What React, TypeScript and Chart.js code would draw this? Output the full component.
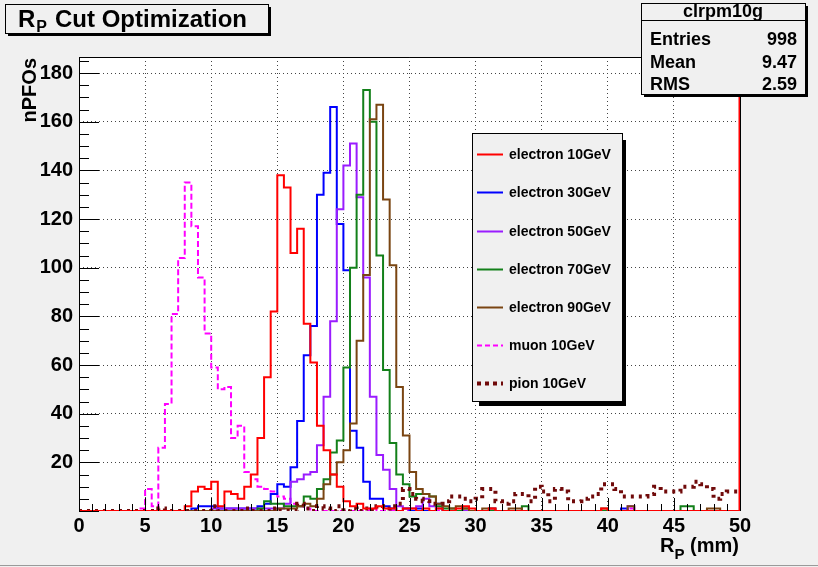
import React, { useEffect, useRef } from 'react';
import { Chart, registerables } from 'chart.js';

Chart.register(...registerables);

// ---- data: 100 bins of 0.5 mm from 0 to 50 mm ----
const X_MIN = 0;
const X_MAX = 50;
const BIN_COUNT = 100;
const binLowEdges: number[] = Array.from({ length: BIN_COUNT }, (_, i) => X_MIN + (i * (X_MAX - X_MIN)) / BIN_COUNT);

const xTickValues = [0, 5, 10, 15, 20, 25, 30, 35, 40, 45, 50];
const yTickValues = [20, 40, 60, 80, 100, 120, 140, 160, 180];

const electron10 = [
  0, 0, 0, 0, 0, 0, 0, 0, 0, 0,
  0, 0, 0, 0, 0, 0, 2, 8, 10, 9,
  12, 2, 8, 7, 5, 10, 15, 30, 55, 82,
  138, 133, 106, 116, 77, 61, 35, 25, 15, 10,
  4, 2, 3, 1, 1, 2, 1, 1, 0, 1,
  1, 0, 1, 0, 1, 0, 0, 1, 2, 1,
  0, 0, 1, 0, 0, 0, 0, 0, 0, 0,
  0, 0, 0, 0, 0, 0, 0, 0, 0, 1,
  0, 0, 0, 0, 0, 0, 0, 0, 0, 0,
  0, 0, 0, 0, 0, 0, 0, 0, 0, 0,
];
const electron30 = [
  0, 0, 0, 0, 0, 0, 0, 0, 0, 0,
  0, 0, 0, 0, 0, 0, 0, 1, 2, 2,
  2, 1, 1, 1, 1, 1, 1, 2, 3, 7,
  11, 10, 18, 37, 64, 76, 130, 139, 166, 118,
  99, 33, 26, 12, 5, 5, 2, 1, 0, 1,
  0, 1, 0, 0, 3, 0, 0, 0, 0, 0,
  0, 0, 0, 0, 0, 0, 0, 0, 0, 0,
  0, 0, 0, 0, 0, 0, 0, 0, 0, 0,
  0, 0, 1, 0, 0, 0, 0, 0, 0, 0,
  0, 0, 0, 0, 0, 0, 0, 0, 0, 0,
];
const electron50 = [
  0, 0, 0, 0, 0, 0, 0, 0, 0, 0,
  0, 0, 0, 0, 0, 0, 0, 0, 0, 0,
  1, 1, 1, 1, 1, 1, 1, 1, 1, 1,
  1, 3, 12, 13, 15, 16, 27, 47, 78, 124,
  142, 151, 129, 96, 47, 23, 17, 9, 2, 1,
  1, 2, 5, 2, 1, 0, 0, 0, 0, 0,
  0, 0, 1, 0, 0, 0, 0, 0, 0, 0,
  0, 0, 0, 0, 0, 0, 0, 0, 0, 0,
  0, 0, 0, 2, 0, 0, 0, 0, 0, 0,
  0, 0, 0, 0, 0, 0, 0, 0, 0, 0,
];
const electron70 = [
  0, 0, 0, 0, 0, 0, 0, 0, 0, 0,
  0, 0, 0, 0, 0, 0, 0, 0, 0, 0,
  0, 0, 0, 0, 0, 0, 0, 1, 4, 3,
  3, 2, 2, 2, 6, 5, 9, 13, 24, 29,
  59, 100, 130, 173, 160, 105, 58, 28, 15, 11,
  6, 7, 7, 6, 2, 1, 1, 0, 1, 0,
  0, 0, 0, 0, 0, 0, 0, 2, 0, 0,
  0, 0, 0, 0, 0, 0, 0, 0, 0, 0,
  0, 0, 0, 0, 0, 0, 0, 0, 0, 0,
  0, 2, 2, 0, 0, 0, 0, 0, 0, 0,
];
const electron90 = [
  0, 0, 0, 0, 0, 0, 0, 0, 0, 0,
  0, 0, 0, 0, 0, 0, 0, 0, 0, 0,
  0, 0, 0, 0, 0, 0, 0, 0, 0, 0,
  1, 1, 1, 2, 3, 2, 5, 11, 15, 20,
  25, 36, 70, 97, 161, 167, 128, 101, 51, 31,
  16, 9, 7, 6, 3, 2, 1, 2, 1, 0,
  0, 1, 1, 0, 0, 1, 1, 0, 0, 0,
  0, 0, 0, 0, 0, 0, 0, 0, 0, 1,
  0, 0, 0, 2, 0, 0, 0, 0, 0, 0,
  0, 0, 0, 0, 0, 1, 1, 0, 0, 0,
];
const muon10 = [
  0, 0, 0, 0, 0, 0, 0, 0, 0, 1,
  9, 2, 26, 44, 81, 104, 135, 117, 96, 73,
  59, 50, 51, 30, 35, 16, 13, 10, 9, 8,
  6, 5, 3, 2, 1, 0, 0, 0, 0, 0,
  0, 0, 0, 0, 1, 0, 0, 0, 0, 0,
  0, 0, 0, 0, 0, 0, 0, 0, 0, 0,
  0, 0, 0, 0, 0, 0, 0, 0, 0, 0,
  0, 0, 0, 0, 0, 0, 0, 0, 0, 0,
  0, 0, 0, 1, 0, 0, 0, 0, 0, 0,
  0, 0, 0, 0, 0, 0, 0, 0, 0, 0,
];
const pion10 = [
  0, 0, 0, 0, 0, 0, 0, 0, 0, 0,
  0, 0, 1, 0, 0, 0, 0, 0, 0, 0,
  2, 0, 0, 0, 0, 1, 0, 0, 0, 1,
  0, 0, 0, 3, 1, 0, 2, 1, 0, 2,
  0, 1, 0, 1, 0, 2, 1, 2, 3, 9,
  7, 5, 4, 3, 3, 4, 6, 6, 5, 4,
  5, 9, 9, 4, 3, 4, 7, 7, 4, 10,
  8, 4, 9, 8, 4, 4, 5, 6, 7, 11,
  11, 9, 6, 6, 6, 6, 7, 10, 8, 8,
  8, 10, 10, 12, 11, 9, 5, 7, 8, 8,
];

const seriesLabels = [
  'electron 10GeV', 'electron 30GeV', 'electron 50GeV', 'electron 70GeV',
  'electron 90GeV', 'muon 10GeV', 'pion 10GeV',
];
const seriesValues = [electron10, electron30, electron50, electron70, electron90, muon10, pion10];

const statsName = 'clrpm10g';
const statsRows: [string, string][] = [
  ['Entries', '998'],
  ['Mean', '9.47'],
  ['RMS', '2.59'],
];

// ---- styles ----
const FONT = "'Liberation Sans', Arial, Helvetica, sans-serif";
const BG = '#f0f0f0';
const seriesStyles = [
  { color: '#ff0000', width: 2, dash: [] as number[], order: 0 },
  { color: '#0000ff', width: 2, dash: [] as number[], order: 5 },
  { color: '#9a1cff', width: 2, dash: [] as number[], order: 4 },
  { color: '#13801a', width: 2, dash: [] as number[], order: 3 },
  { color: '#7a4512', width: 2, dash: [] as number[], order: 2 },
  { color: '#ff00ff', width: 2, dash: [6, 3], order: 6 },
  { color: '#700a0a', width: 4, dash: [3, 5], order: 1 },
];

function toSteps(values: number[]) {
  const pts = values.map((v, i) => ({ x: binLowEdges[i], y: v }));
  pts.push({ x: X_MAX, y: values[values.length - 1] });
  return pts;
}

function shadowBox(ctx: CanvasRenderingContext2D, x: number, y: number, w: number, h: number, sx: number, sy: number, off: number) {
  ctx.fillStyle = '#000';
  ctx.fillRect(x + off, y + h, w - off + sx, sy);
  ctx.fillRect(x + w, y + off, sx, h - off + sy);
  ctx.fillStyle = BG;
  ctx.fillRect(x, y, w, h);
  ctx.strokeStyle = '#000';
  ctx.lineWidth = 1;
  ctx.strokeRect(x + 0.5, y + 0.5, w, h);
}

const rootPlugin = {
  id: 'rootDecor',
  beforeDraw(chart: any) {
    const { ctx, chartArea: a } = chart;
    ctx.save();
    ctx.fillStyle = BG;
    ctx.fillRect(0, 0, chart.width, chart.height);
    ctx.fillStyle = '#ffffff';
    ctx.fillRect(a.left, a.top, a.right - a.left, a.bottom - a.top);
    ctx.restore();
  },
  afterDraw(chart: any) {
    const { ctx, chartArea: a } = chart;
    const xs = chart.scales.x;
    const ys = chart.scales.y;
    ctx.save();

    // frame
    ctx.strokeStyle = '#000';
    ctx.lineWidth = 1;
    ctx.beginPath();
    ctx.moveTo(a.left + 0.5, a.top + 0.5);
    ctx.lineTo(a.right, a.top + 0.5);
    ctx.moveTo(a.left + 0.5, a.top);
    ctx.lineTo(a.left + 0.5, a.bottom);
    ctx.moveTo(a.right + 0.5, a.top);
    ctx.lineTo(a.right + 0.5, a.bottom);
    ctx.stroke();
    ctx.strokeStyle = '#ff0000';
    ctx.lineWidth = 1.5;
    ctx.beginPath();
    ctx.moveTo(a.right - 0.75, a.top);
    ctx.lineTo(a.right - 0.75, a.bottom);
    ctx.stroke();

    // tick marks (inside the frame)
    ctx.strokeStyle = '#000';
    ctx.lineWidth = 1;
    ctx.beginPath();
    for (let v = X_MIN; v <= X_MAX; v += 1) {
      const px = Math.round(xs.getPixelForValue(v)) + 0.5;
      const len = v % 5 === 0 ? 13 : 7;
      ctx.moveTo(px, a.bottom);
      ctx.lineTo(px, a.bottom - len);
    }
    for (let v = 0; v <= ys.max; v += 5) {
      const py = Math.round(ys.getPixelForValue(v)) + 0.5;
      const len = v % 20 === 0 ? 20 : 10;
      ctx.moveTo(a.left, py);
      ctx.lineTo(a.left + len, py);
    }
    ctx.stroke();

    // axis titles
    ctx.fillStyle = '#000';
    ctx.textBaseline = 'alphabetic';
    ctx.font = `bold 20px ${FONT}`;
    ctx.save();
    ctx.translate(36, a.top + 1);
    ctx.rotate(-Math.PI / 2);
    ctx.textAlign = 'right';
    ctx.fillText('nPFOs', 0, 0);
    ctx.restore();

    {
      const right = a.right - 1;
      ctx.font = `bold 20px ${FONT}`;
      const tail = ' (mm)';
      const wTail = ctx.measureText(tail).width;
      ctx.font = `bold 15px ${FONT}`;
      const wSub = ctx.measureText('P').width;
      ctx.font = `bold 20px ${FONT}`;
      const wR = ctx.measureText('R').width;
      const start = right - wTail - wSub - wR;
      ctx.textAlign = 'left';
      ctx.fillText('R', start, 552);
      ctx.font = `bold 15px ${FONT}`;
      ctx.fillText('P', start + wR, 559);
      ctx.font = `bold 20px ${FONT}`;
      ctx.fillText(tail, start + wR + wSub, 552);
    }

    // title box
    shadowBox(ctx, 5, 4, 263, 29, 3, 3, 3);
    ctx.fillStyle = '#000';
    ctx.textAlign = 'left';
    ctx.font = `bold 24px ${FONT}`;
    ctx.fillText('R', 18, 27);
    const wTR = ctx.measureText('R').width;
    ctx.font = `bold 16px ${FONT}`;
    ctx.fillText('P', 18 + wTR + 1, 32);
    ctx.font = `bold 24px ${FONT}`;
    ctx.fillText('Cut Optimization', 55, 27);

    // stats box
    shadowBox(ctx, 641, 3, 164, 91, 3, 3, 3);
    ctx.strokeStyle = '#000';
    ctx.beginPath();
    ctx.moveTo(641, 20.5);
    ctx.lineTo(805, 20.5);
    ctx.stroke();
    ctx.fillStyle = '#000';
    ctx.font = `bold 18px ${FONT}`;
    ctx.textAlign = 'center';
    ctx.fillText(statsName, 723, 17);
    const rowY = [45, 68, 90];
    statsRows.forEach(([k, v], i) => {
      ctx.textAlign = 'left';
      ctx.fillText(k, 650, rowY[i]);
      ctx.textAlign = 'right';
      ctx.fillText(v, 797, rowY[i]);
    });

    // legend
    shadowBox(ctx, 472, 133, 150, 268, 4, 5, 7);
    const rows = [154, 192, 231, 269, 307, 345, 383];
    seriesLabels.forEach((label, i) => {
      const st = seriesStyles[i];
      ctx.strokeStyle = st.color;
      ctx.lineWidth = i === 6 ? 4 : 2;
      ctx.setLineDash(i === 6 ? [4, 4] : st.dash.length ? [5, 3] : []);
      ctx.beginPath();
      ctx.moveTo(477, rows[i] + 0.5);
      ctx.lineTo(503, rows[i] + 0.5);
      ctx.stroke();
      ctx.setLineDash([]);
      ctx.fillStyle = '#000';
      ctx.font = `bold 14px ${FONT}`;
      ctx.textAlign = 'left';
      ctx.textBaseline = 'middle';
      ctx.fillText(label, 509, rows[i] + 1);
      ctx.textBaseline = 'alphabetic';
    });

    // canvas bottom edge
    ctx.strokeStyle = '#9a9a9a';
    ctx.lineWidth = 1;
    ctx.beginPath();
    ctx.moveTo(0, chart.height - 1.5);
    ctx.lineTo(chart.width, chart.height - 1.5);
    ctx.stroke();

    ctx.restore();
  },
};

export default function App() {
  const ref = useRef<HTMLCanvasElement | null>(null);

  useEffect(() => {
    document.body.style.margin = '0';
    const canvas = ref.current;
    if (!canvas) return;
    const chart = new Chart(canvas, {
      type: 'line',
      data: {
        datasets: seriesValues.map((vals, i) => ({
          label: seriesLabels[i],
          data: toSteps(vals),
          stepped: 'before' as const,
          borderColor: seriesStyles[i].color,
          borderWidth: seriesStyles[i].width,
          borderDash: seriesStyles[i].dash,
          borderCapStyle: 'butt' as const,
          borderJoinStyle: 'miter' as const,
          pointRadius: 0,
          fill: false,
          order: seriesStyles[i].order,
        })),
      },
      options: {
        responsive: false,
        animation: false,
        devicePixelRatio: 1,
        layout: { padding: { top: 57, right: 78, left: 0, bottom: 0 } },
        plugins: {
          legend: { display: false },
          tooltip: { enabled: false },
          title: { display: false },
        },
        scales: {
          x: {
            type: 'linear',
            min: X_MIN,
            max: X_MAX,
            afterFit: (s: any) => { s.height = 56; },
            afterBuildTicks: (s: any) => { s.ticks = xTickValues.map((v) => ({ value: v })); },
            ticks: {
              color: '#000',
              font: { family: FONT, size: 20, weight: 'bold' },
              maxRotation: 0,
              autoSkip: false,
              padding: 3,
            },
            grid: { color: '#444', lineWidth: 1, drawTicks: false },
            border: { display: false, dash: [1, 3] },
          },
          y: {
            type: 'linear',
            min: 0,
            max: 186.6,
            afterFit: (s: any) => { s.width = 79; },
            afterBuildTicks: (s: any) => { s.ticks = yTickValues.map((v) => ({ value: v })); },
            ticks: {
              color: '#000',
              font: { family: FONT, size: 20, weight: 'bold' },
              padding: 6,
              autoSkip: false,
            },
            grid: { color: '#444', lineWidth: 1, drawTicks: false },
            border: { display: false, dash: [1, 3] },
          },
        },
      },
      plugins: [rootPlugin],
    } as any);
    return () => chart.destroy();
  }, []);

  return (
    <div style={{ width: 818, height: 567, position: 'relative' }}>
      <canvas ref={ref} width={818} height={567} style={{ display: 'block' }} />
    </div>
  );
}
